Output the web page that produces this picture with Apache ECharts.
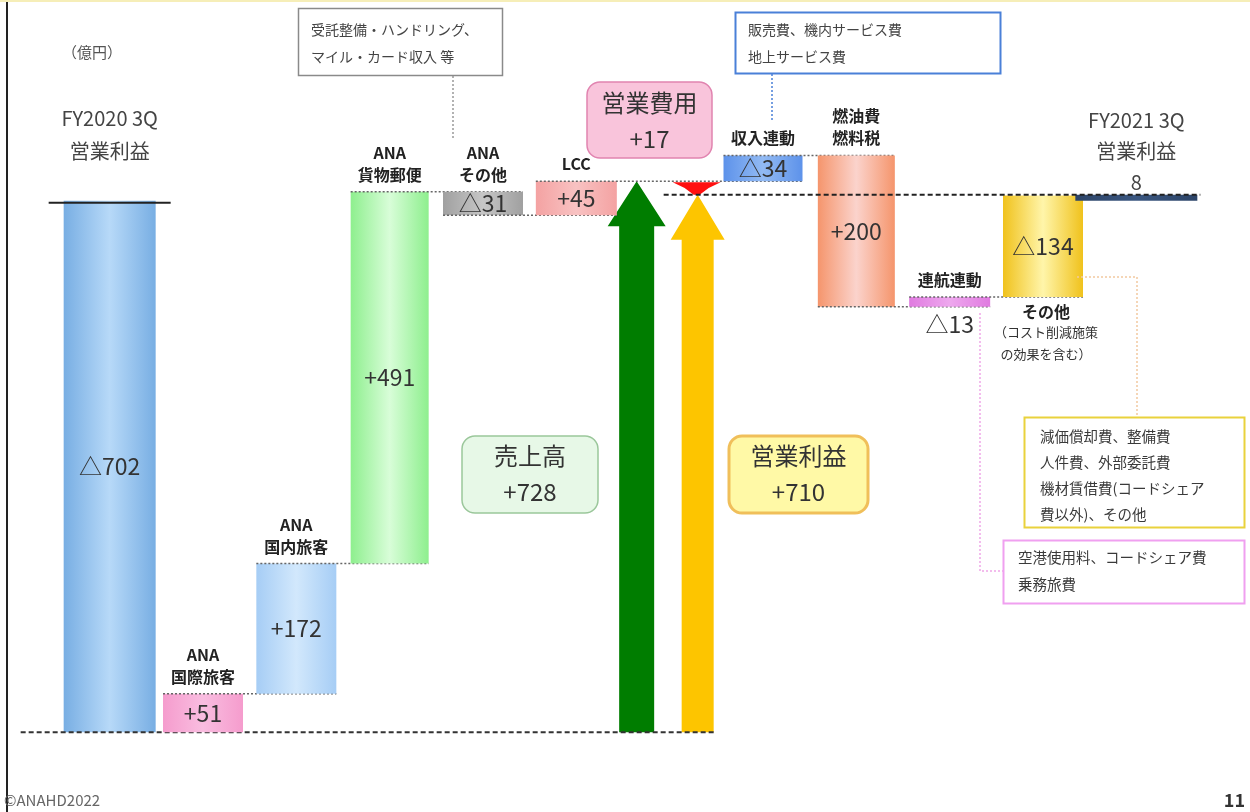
<!DOCTYPE html>
<html><head><meta charset="utf-8">
<script src="https://cdn.jsdelivr.net/npm/echarts@6/dist/echarts.min.js"></script>
<style>html,body{margin:0;padding:0;background:#fff;}#c{width:1250px;height:812px;}</style>
</head><body><div id="c"></div>
<script>
// ---------- data ----------
const categories = ['FY2020 3Q\n営業利益','ANA\n国際旅客','ANA\n国内旅客','ANA\n貨物郵便','ANA\nその他','LCC','売上高・営業利益','収入連動','燃油費\n燃料税','連航連動','その他','FY2021 3Q\n営業利益\n8'];
const startProfit = -702;
const revenueChanges = [51, 172, 491, -31, 45];   // effect on operating profit
const costChanges = [34, -200, 13, 134];          // effect on operating profit
const endProfit = 8;
const valueLabels = ['△702','+51','+172','+491','△31','+45','','△34','+200','△13','△134',''];
const salesText = '売上高\n+728';
const profitText = '営業利益\n+710';
const costText = '営業費用\n+17';
const unitText = '（億円）';
const noteRevenueOther = '受託整備・ハンドリング、\nマイル・カード収入 等';
const noteRevenueLinked = '販売費、機内サービス費\n地上サービス費';
const noteOtherCost = '減価償却費、整備費\n人件費、外部委託費\n機材賃借費(コードシェア\n費以外)、その他';
const noteFlightLinked = '空港使用料、コードシェア費\n乗務旅費';
const otherSubText = '（コスト削減施策\nの効果を含む）';

// ---------- waterfall rows ----------
const barRows = [[0, startProfit, 0, startProfit]];
let level = startProfit;
revenueChanges.forEach((d, k) => { const nl = level + d; barRows.push([1 + k, Math.min(level, nl), Math.max(level, nl), nl]); level = nl; });
const afterRevenue = level;
costChanges.forEach((d, k) => { const nl = level + d; barRows.push([7 + k, Math.min(level, nl), Math.max(level, nl), nl]); level = nl; });
barRows.push([11, 0, endProfit, endProfit]);
const arrowRows = [[6, startProfit, afterRevenue, 0], [6, startProfit, endProfit, 1], [6, endProfit, afterRevenue, 2]];

// ---------- styles ----------
const FONT = '"Noto Sans CJK JP","Noto Sans",sans-serif';
const barStyle = {
  0: {e:'#78aee3', c:'#b7d9f8', w:92},
  1: {e:'#f59ccd', c:'#f9bde0', w:80},
  2: {e:'#a6cdf5', c:'#d2e8fc', w:80},
  3: {e:'#8eef8e', c:'#d8fdd8', w:78},
  4: {e:'#a0a0a0', c:'#c6c6c6', w:80},
  5: {e:'#f4a2a2', c:'#f8c2c2', w:81},
  7: {e:'#5d92ea', c:'#92baf3', w:79},
  8: {e:'#f5956c', c:'#fbd3cc', w:77},
  9: {e:'#e07be0', c:'#eea8ee', w:81},
  10:{e:'#f0c21c', c:'#fff5aa', w:80},
  11:{e:'#2c4468', c:'#3a5680', w:122}
};
function grad(s){
  return new echarts.graphic.LinearGradient(0,0,1,0,[{offset:0,color:s.e},{offset:0.5,color:s.c},{offset:1,color:s.e}]);
}
const dotted = {stroke:'#666', lineWidth:1.5, lineDash:[2,2]};

function renderBar(params, api){
  const j = params.dataIndex;
  const cat = api.value(0), lo = api.value(1), hi = api.value(2), end = api.value(3);
  const s = barStyle[cat];
  const cx = api.coord([cat, 0])[0];
  const yLo = api.coord([cat, lo])[1];
  const yHi = api.coord([cat, hi])[1];
  const x0 = cx - s.w/2;
  const ch = [];
  ch.push({type:'rect', shape:{x:x0, y:yHi, width:s.w, height:Math.max(yLo - yHi, 1)}, style:{fill:grad(s)}});
  // connectors
  if (j > 0 && j < barRows.length - 2) {
    const nxt = barRows[j+1];
    const ncx = api.coord([nxt[0], 0])[0];
    const yE = api.coord([cat, end])[1];
    ch.push({type:'line', shape:{x1:x0, y1:yE, x2:ncx + barStyle[nxt[0]].w/2, y2:yE}, style:dotted});
  }
  const lbl = valueLabels[cat];
  if (cat === 0) {
    const arrowCx = api.coord([6, 0])[0];
    const slot = api.size([1, 0])[0];
    ch.push({type:'line', shape:{x1:x0-15, y1:yHi+2, x2:x0+s.w+15, y2:yHi+2}, style:{stroke:'#222', lineWidth:2}});
    ch.push({type:'line', shape:{x1:x0-43, y1:yLo, x2:arrowCx + slot/2, y2:yLo}, style:{stroke:'#333', lineWidth:2, lineDash:[5,3]}});
    ch.push({type:'text', x:cx, y:yHi-33, style:{text:categories[cat], font:'20px '+FONT, fill:'#444', align:'center', verticalAlign:'bottom', textAlign:'center', textVerticalAlign:'bottom', lineHeight:33}});
    ch.push({type:'text', x:cx, y:(yLo+yHi)/2, style:{text:lbl, font:'23px '+FONT, fill:'#333', align:'center', verticalAlign:'middle', textAlign:'center', textVerticalAlign:'middle'}});
  } else if (cat === 11) {
    const arrowCx = api.coord([6, 0])[0];
    ch.push({type:'line', shape:{x1:arrowCx-6, y1:yHi, x2:x0+s.w+3, y2:yHi}, style:{stroke:'#222', lineWidth:2, lineDash:[5,3]}});
    ch.push({type:'text', x:cx, y:yHi+3, style:{text:categories[cat], font:'20px '+FONT, fill:'#444', align:'center', verticalAlign:'bottom', textAlign:'center', textVerticalAlign:'bottom', lineHeight:31}});
  } else {
    if (cat === 10) {
      ch.push({type:'text', x:cx+3, y:yLo+15, style:{text:categories[cat], font:'bold 16px '+FONT, fill:'#222', align:'center', verticalAlign:'middle', textAlign:'center', textVerticalAlign:'middle'}});
      ch.push({type:'text', x:cx+3, y:yLo+46, style:{text:otherSubText, font:'13px '+FONT, fill:'#333', align:'center', verticalAlign:'middle', textAlign:'center', textVerticalAlign:'middle', lineHeight:22}});
    } else {
      ch.push({type:'text', x:cx, y:yHi-6, style:{text:categories[cat], font:'bold 16px '+FONT, fill:'#222', align:'center', verticalAlign:'bottom', textAlign:'center', textVerticalAlign:'bottom', lineHeight:22}});
    }
    const ly = (cat === 9) ? yLo + 17 : (yLo + yHi)/2;
    ch.push({type:'text', x:cx, y:ly, style:{text:lbl, font:'23px '+FONT, fill:'#333', align:'center', verticalAlign:'middle', textAlign:'center', textVerticalAlign:'middle'}});
  }
  return {type:'group', children:ch};
}

function renderArrow(params, api){
  const cat = api.value(0), lo = api.value(1), hi = api.value(2), kind = api.value(3);
  const cx = api.coord([cat, 0])[0];
  const yLo = api.coord([cat, lo])[1];
  const yHi = api.coord([cat, hi])[1];
  if (kind === 2) {
    const x = cx + 27;
    const h = yLo - yHi;
    return {type:'polygon', shape:{points:[[x-24,yHi+1],[x+24,yHi+1],[x+12,yHi+h*0.5],[x+3,yLo],[x-3,yLo],[x-12,yHi+h*0.5]]}, style:{fill:'#ff1010'}};
  }
  const x = kind === 0 ? cx - 33 : cx + 28;
  const hw = kind === 0 ? 29 : 27;
  const sw = kind === 0 ? 17.5 : 16;
  const hh = 45;
  return {type:'polygon', shape:{points:[[x,yHi],[x+hw,yHi+hh],[x+sw,yHi+hh],[x+sw,yLo],[x-sw,yLo],[x-sw,yHi+hh],[x-hw,yHi+hh]]},
    style:{fill: kind === 0 ? '#007d00' : '#fdc500'}};
}

// ---------- annotations ----------
function txt(x, y, text, size, opt){
  opt = opt || {};
  return {type:'text', x:x, y:y, z:10, style:{text:text, font:(opt.weight||'')+' '+size+'px '+FONT, fill:opt.fill||'#3a3a3a',
    align:opt.align||'left', verticalAlign:'middle', textAlign:opt.align||'left', textVerticalAlign:'middle', lineHeight:opt.lh||size*1.3}};
}
function box(x, y, w, h, fill, stroke, lw, r){
  return {type:'rect', z:9, shape:{x:x, y:y, width:w, height:h, r:r||0}, style:{fill:fill, stroke:stroke, lineWidth:lw}};
}
function ln(pts, stroke, dash){
  return {type:'polyline', z:8, shape:{points:pts}, style:{stroke:stroke, lineWidth:1.5, lineDash:dash||[2,2], fill:null}};
}
const graphics = [
  {type:'line', shape:{x1:7,y1:0,x2:7,y2:812}, style:{stroke:'#222', lineWidth:2}},
  {type:'line', shape:{x1:0,y1:1,x2:1250,y2:1}, style:{stroke:'#f6eeb8', lineWidth:2}},
  txt(62, 52, unitText, 15, {fill:'#555'}),
  txt(4, 800, '©ANAHD2022', 15, {fill:'#666'}),
  txt(1245, 800, '11', 18, {fill:'#333', weight:'bold', align:'right'}),
  box(298.5, 8.5, 204, 67, '#fff', '#8a8a8a', 1.5),
  txt(311, 43, noteRevenueOther, 14, {lh:27, fill:'#444'}),
  ln([[453,76],[453,138]], '#999'),
  box(735.5, 12.5, 265, 61, '#fff', '#4a80d8', 2),
  txt(748, 43, noteRevenueLinked, 14, {lh:27, fill:'#444'}),
  ln([[772,74],[772,120]], '#4a80d8'),
  box(587, 82, 125, 76, '#f9c4db', '#e184b0', 1.5, 13),
  txt(649.5, 121, costText, 24, {align:'center', lh:36, fill:'#333'}),
  box(462, 436, 136, 77, '#e7f8e7', '#9bc79b', 1.5, 13),
  txt(530, 474, salesText, 24, {align:'center', lh:36, fill:'#333'}),
  box(729, 436, 139, 77, '#fff9a6', '#f0bf5a', 3, 13),
  txt(798.5, 474, profitText, 24, {align:'center', lh:36, fill:'#333'}),
  ln([[1077,277],[1137,277],[1137,417]], '#f2c9a0'),
  ln([[980,313],[980,571],[1003,571]], '#f0a6e8'),
  box(1024.5, 417.5, 220, 110, '#fff', '#e9d23c', 2),
  txt(1040, 475, noteOtherCost, 14.5, {lh:26, fill:'#3a3a3a'}),
  box(1003.5, 540.5, 241, 63, '#fff', '#f0a0f0', 2),
  txt(1018, 571, noteFlightLinked, 14.5, {lh:27, fill:'#3a3a3a'})
];

const chart = echarts.init(document.getElementById('c'), null, {renderer:'canvas'});
chart.setOption({
  animation:false,
  backgroundColor:'#fff',
  grid:{left:63, right:67, top:4, height:757},
  xAxis:{type:'category', data:categories, show:false},
  yAxis:{type:'value', min:-740, max:260, show:false},
  series:[
    {type:'custom', renderItem:renderArrow, data:arrowRows, encode:{x:0, y:[1,2]}, z:3},
    {type:'custom', renderItem:renderBar, data:barRows, encode:{x:0, y:[1,2]}, z:4}
  ],
  graphic:{elements:graphics}
});
</script></body></html>
